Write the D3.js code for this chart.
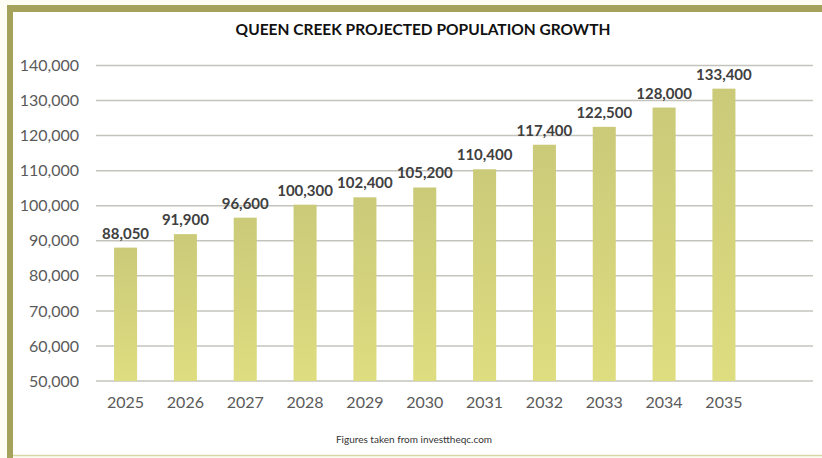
<!DOCTYPE html>
<html>
<head>
<meta charset="utf-8">
<script src="https://cdn.jsdelivr.net/npm/d3@7"></script>
<style>
  body { margin: 0; background: #fdfdf3; }
  svg { display: block; }
</style>
</head>
<body>
<svg id="canvas" width="822" height="458"></svg>
<script>
let years = ["2025", "2026", "2027", "2028", "2029", "2030", "2031", "2032", "2033", "2034", "2035"]
let population = [88050, 91900, 96600, 100300, 102400, 105200, 110400, 117400, 122500, 128000, 133400]
let yTicks = [50000, 60000, 70000, 80000, 90000, 100000, 110000, 120000, 130000, 140000]

let canvas = d3.select("#canvas")

// frame
canvas.append("rect")
  .attr("x", 10).attr("y", 9).attr("width", 830).attr("height", 446)
  .attr("fill", "#ffffff")
canvas.append("line")
  .attr("x1", 7).attr("x2", 822).attr("y1", 8.5).attr("y2", 8.5)
  .attr("stroke", "#a4a25b").attr("stroke-width", 7)
canvas.append("line")
  .attr("x1", 10).attr("x2", 10).attr("y1", 5).attr("y2", 458)
  .attr("stroke", "#a4a25b").attr("stroke-width", 6)
canvas.append("line")
  .attr("x1", 13).attr("x2", 822).attr("y1", 455.5).attr("y2", 455.5)
  .attr("stroke", "#d8d7a6").attr("stroke-width", 1.5)

let defs = canvas.append("defs")
let grad = defs.append("linearGradient")
  .attr("id", "barGrad").attr("x1", 0).attr("x2", 0).attr("y1", 0).attr("y2", 1)
grad.append("stop").attr("offset", "0%").attr("stop-color", "#cbca79")
grad.append("stop").attr("offset", "100%").attr("stop-color", "#dedd80")

let yScale = d3.scaleLinear().domain([50000, 140000]).range([381, 65.5])
let xScale = d3.scaleBand().domain(years).range([95.5, 754]).paddingInner(0.615).paddingOuter(0.31)

canvas.append("text")
  .attr("x", 423).attr("y", 35)
  .attr("text-anchor", "middle")
  .style("font-family", "Lato, sans-serif")
  .style("font-weight", "bold")
  .style("font-size", "15.5px")
  .attr("fill", "#111")
  .text("QUEEN CREEK PROJECTED POPULATION GROWTH")

// gridlines
canvas.append("g")
  .selectAll("line")
  .data(yTicks)
  .enter()
  .append("line")
  .attr("x1", 96).attr("x2", 813)
  .attr("y1", (d) => yScale(d)).attr("y2", (d) => yScale(d))
  .attr("stroke", "#c4c4bc").attr("stroke-width", 1.5)

// y axis labels
let yAxis = d3.axisLeft(yScale).tickValues(yTicks).tickFormat(d3.format(",")).tickSize(0).tickPadding(0)
let yG = canvas.append("g").attr("transform", "translate(79,0)").call(yAxis)
yG.select(".domain").remove()
yG.selectAll("text")
  .style("font-family", "Lato, sans-serif")
  .style("font-size", "16px")
  .attr("fill", "#5a5a5a")

// x axis labels
let xAxis = d3.axisBottom(xScale).tickSize(0).tickPadding(0)
let xG = canvas.append("g").attr("transform", "translate(0,397)").call(xAxis)
xG.select(".domain").remove()
xG.selectAll("text")
  .style("font-family", "Lato, sans-serif")
  .style("font-size", "16px")
  .attr("fill", "#5a5a5a")

// bars
canvas.append("g")
  .selectAll("rect")
  .data(population)
  .enter()
  .append("rect")
  .attr("x", (d, i) => xScale(years[i]))
  .attr("width", xScale.bandwidth())
  .attr("y", (d) => yScale(d))
  .attr("height", (d) => yScale(50000) - yScale(d))
  .attr("fill", "url(#barGrad)")

// value labels
canvas.append("g")
  .selectAll("text")
  .data(population)
  .enter()
  .append("text")
  .attr("x", (d, i) => xScale(years[i]) + xScale.bandwidth() / 2)
  .attr("y", (d) => yScale(d) - 9)
  .attr("text-anchor", "middle")
  .style("font-family", "Lato, sans-serif")
  .style("font-weight", "bold")
  .style("font-size", "15px")
  .attr("fill", "#404040")
  .text((d) => d3.format(",")(d))

canvas.append("text")
  .attr("x", 414).attr("y", 443)
  .attr("text-anchor", "middle")
  .style("font-family", "Lato, sans-serif")
  .style("font-size", "10px")
  .attr("fill", "#333")
  .text("Figures taken from investtheqc.com")
</script>
</body>
</html>
